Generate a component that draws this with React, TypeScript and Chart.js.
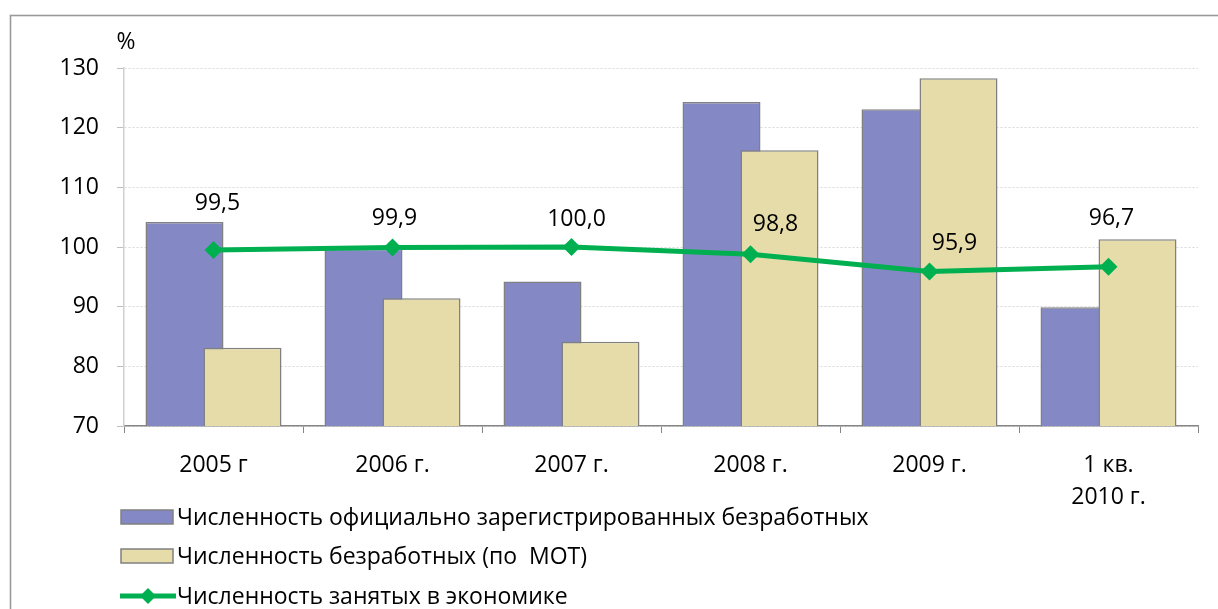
import React, { useEffect, useRef } from "react";
import { Chart, registerables } from "chart.js";

Chart.register(...registerables);

// ---- data ----
const categories: (string | string[])[] = ["2005 г", "2006 г.", "2007 г.", "2008 г.", "2009 г.", ["1 кв.", "2010 г."]];
const registeredUnemployed = [104.2, 99.7, 94.2, 124.3, 123.1, 89.9];
const iloUnemployed = [83.1, 91.4, 84.1, 116.2, 128.3, 101.3];
const employed = [99.5, 99.9, 100.0, 98.8, 95.9, 96.7];
const employedLabels = ["99,5", "99,9", "100,0", "98,8", "95,9", "96,7"];
const seriesNames = [
  "Численность официально зарегистрированных безработных",
  "Численность безработных (по  МОТ)",
  "Численность занятых в экономике",
];
const yMin = 70;
const yMax = 130;
const yStep = 10;

// ---- style ----
const FONT = "'Open Sans', Lato, sans-serif";
const FS = 23;
const BLUE = "#8488C4";
const BEIGE = "#E6DCAA";
const GREEN = "#00B050";
const BAR_BORDER = "#808080";
// label offsets relative to each line point (dx, dy)
const labelDx = [4, 2, 5, 25, 25, 3];
const labelDy = [-47, -29, -28, -30, -28, -48];

const orderPlugin = {
  id: "overlapOrder",
  beforeDatasetDraw(chart: any, args: any) {
    if (args.index === 1) return false;
    return true;
  },
  afterDatasetDraw(chart: any, args: any) {
    if (args.index === 0) {
      const meta = chart.getDatasetMeta(1);
      if (meta.hidden) return;
      const a = chart.chartArea;
      const ctx = chart.ctx;
      ctx.save();
      ctx.beginPath();
      ctx.rect(a.left, a.top - 2, a.right - a.left, a.bottom - a.top + 2);
      ctx.clip();
      meta.controller.draw();
      ctx.restore();
    }
  },
};

const decorPlugin = {
  id: "decor",
  beforeDraw(chart: any) {
    const ctx = chart.ctx;
    ctx.save();
    ctx.fillStyle = "#ffffff";
    ctx.fillRect(0, 0, chart.width, chart.height);
    ctx.strokeStyle = "#9A9A9A";
    ctx.lineWidth = 1.6;
    ctx.strokeRect(10.5, 15.5, chart.width + 20, chart.height + 20);
    ctx.restore();
  },
  afterDatasetsDraw(chart: any) {
    const ctx = chart.ctx;
    ctx.save();
    ctx.font = `${FS}px ${FONT}`;
    ctx.fillStyle = "#000";
    ctx.textAlign = "center";
    ctx.textBaseline = "middle";
    // unit
    ctx.fillText("%", 126, 42);
    // line value labels
    const meta = chart.getDatasetMeta(2);
    meta.data.forEach((pt: any, i: number) => {
      ctx.fillText(employedLabels[i], pt.x + labelDx[i], pt.y + labelDy[i]);
    });
    // legend
    const rows = [517, 556, 596];
    const sx = 121;
    const sw = 52;
    const tx = 177;
    ctx.textAlign = "left";
    for (let i = 0; i < 3; i++) {
      const ds = chart.data.datasets[i];
      const y = rows[i];
      if (i < 2) {
        ctx.fillStyle = ds.backgroundColor;
        ctx.fillRect(sx, y - 7, sw, 14);
        ctx.strokeStyle = ds.borderColor;
        ctx.lineWidth = 1.5;
        ctx.strokeRect(sx, y - 7, sw, 14);
      } else {
        ctx.strokeStyle = ds.borderColor;
        ctx.lineWidth = 5;
        ctx.beginPath();
        ctx.moveTo(sx - 1, y);
        ctx.lineTo(sx + sw + 3, y);
        ctx.stroke();
        ctx.fillStyle = ds.pointBackgroundColor;
        const cx = sx + sw / 2 + 1;
        const r = 8;
        ctx.beginPath();
        ctx.moveTo(cx, y - r);
        ctx.lineTo(cx + r, y);
        ctx.lineTo(cx, y + r);
        ctx.lineTo(cx - r, y);
        ctx.closePath();
        ctx.fill();
      }
      ctx.fillStyle = "#000";
      ctx.fillText(ds.label, tx, y + 1);
    }
    ctx.restore();
  },
};

export default function App() {
  const ref = useRef<HTMLCanvasElement | null>(null);

  useEffect(() => {
    if (!ref.current) return;
    const chart = new Chart(ref.current, {
      type: "bar",
      data: {
        labels: categories as any,
        datasets: [
          {
            type: "bar",
            label: seriesNames[0],
            data: registeredUnemployed,
            backgroundColor: BLUE,
            borderColor: BAR_BORDER,
            borderWidth: 1.5,
            categoryPercentage: 0.648,
            barPercentage: 1.345,
          },
          {
            type: "bar",
            label: seriesNames[1],
            data: iloUnemployed,
            backgroundColor: BEIGE,
            borderColor: BAR_BORDER,
            borderWidth: 1.5,
            categoryPercentage: 0.648,
            barPercentage: 1.345,
          },
          {
            type: "line",
            label: seriesNames[2],
            data: employed,
            borderColor: GREEN,
            backgroundColor: GREEN,
            pointBackgroundColor: GREEN,
            pointBorderColor: GREEN,
            borderWidth: 5,
            pointStyle: "rectRot",
            pointRadius: 9,
            pointBorderWidth: 0,
            tension: 0,
            order: -1,
          } as any,
        ],
      },
      options: {
        responsive: true,
        maintainAspectRatio: false,
        animation: false,
        layout: { padding: { left: 0, right: 20, top: 68, bottom: 103 } },
        plugins: {
          legend: { display: false },
          tooltip: { enabled: false },
        },
        scales: {
          x: {
            afterFit: (scale: any) => {
              scale.height = 80;
            },
            grid: {
              offset: true,
              drawOnChartArea: false,
              drawTicks: true,
              tickLength: 7,
              tickColor: "#868686",
            },
            border: { display: true, color: "#868686", width: 1.5 },
            ticks: {
              color: "#000",
              font: { family: FONT, size: FS, lineHeight: 1.37 },
              padding: 17,
              maxRotation: 0,
              autoSkip: false,
            },
          },
          y: {
            min: yMin,
            max: yMax,
            afterFit: (scale: any) => {
              scale.width = 124;
            },
            ticks: {
              stepSize: yStep,
              color: "#000",
              font: { family: FONT, size: FS },
              padding: 18,
            },
            grid: {
              color: "#D9D9D9",
              tickColor: "#BFBFBF",
              tickLength: 7,
              lineWidth: 1,
            },
            border: { display: true, color: "#D0D0D0", width: 1.5, dash: [2, 2] },
          },
        },
      },
      plugins: [orderPlugin, decorPlugin],
    });
    return () => chart.destroy();
  }, []);

  return (
    <div style={{ position: "fixed", left: 0, top: 0, width: 1218, height: 609, background: "#fff" }}>
      <canvas ref={ref} />
    </div>
  );
}
